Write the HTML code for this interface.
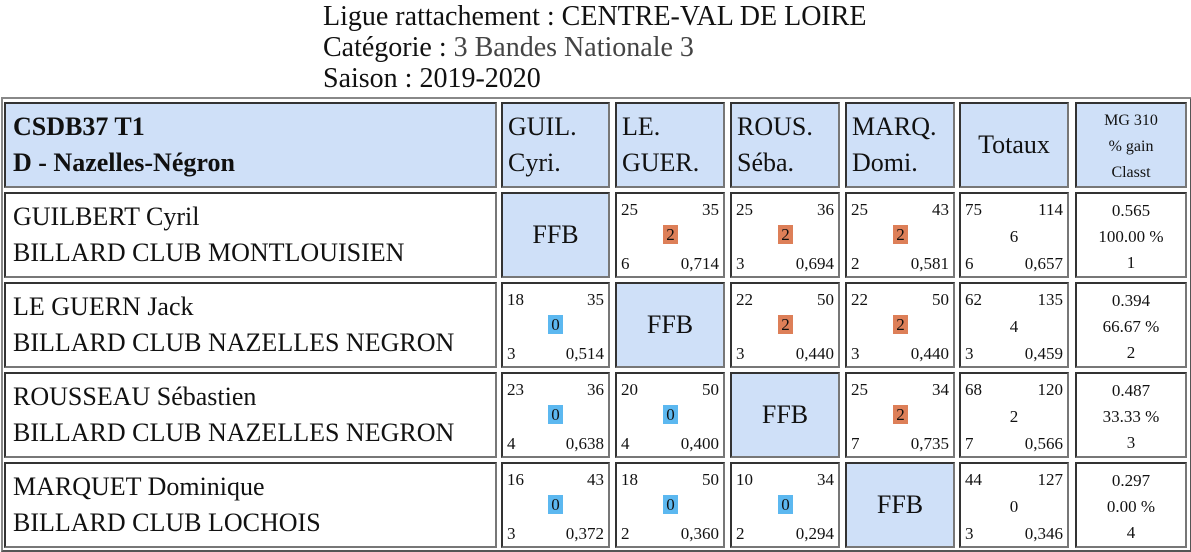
<!DOCTYPE html>
<html><head><meta charset="utf-8"><style>
body{margin:0;width:1191px;height:552px;background:#fff;font-family:"Liberation Serif",serif;color:#111;position:relative;overflow:hidden}
.title{position:absolute;left:323px;font-size:28px;line-height:31px;white-space:nowrap}
.frame{position:absolute;left:1px;top:97px;width:1187px;height:451px;border:2px solid #888;border-right-color:#555;border-bottom-color:#555}
.cell{position:absolute;box-sizing:border-box;border:2px solid #333;border-right-color:#777;border-bottom-color:#777;background:#fff}
.hd{background:#cfe0f8}
.big{font-size:26px;line-height:36px}
.sm{position:absolute;font-size:17px;line-height:19px}
.box{position:absolute;width:15px;height:19px;font-size:17px;line-height:19px;text-align:center}
</style></head><body>
<div class="title" style="top:1px">Ligue rattachement : CENTRE-VAL DE LOIRE</div>
<div class="title" style="top:32px">Catégorie : <span style="color:#444">3 Bandes Nationale 3</span></div>
<div class="title" style="top:63px">Saison : 2019-2020</div>
<div class="frame"></div>
<div id="t"></div>
<script>
const colX=[4,501,615,730,845,959,1075];
const colW=[493,109,110,110,110,110,112];
const rowY=[102,192,282,372,462];
const rowH=86;
const heads=["GUIL.<br>Cyri.","LE.<br>GUER.","ROUS.<br>Séba.","MARQ.<br>Domi."];
const names=["GUILBERT Cyril","LE GUERN Jack","ROUSSEAU Sébastien","MARQUET Dominique"];
const clubs=["BILLARD CLUB MONTLOUISIEN","BILLARD CLUB NAZELLES NEGRON","BILLARD CLUB NAZELLES NEGRON","BILLARD CLUB LOCHOIS"];
const pts=[[null,25,25,25],[18,null,22,22],[23,20,null,25],[16,18,10,null]];
const rep=[[null,35,36,43],[35,null,50,50],[36,50,null,34],[43,50,34,null]];
const gain=[[null,2,2,2],[0,null,2,2],[0,0,null,2],[0,0,0,null]];
const smx=[[null,6,3,2],[3,null,3,3],[4,4,null,7],[3,2,2,null]];
const moy=[[null,"0,714","0,694","0,581"],["0,514",null,"0,440","0,440"],["0,638","0,400",null,"0,735"],["0,372","0,360","0,294",null]];
const totPts=[75,62,68,44],totRep=[114,135,120,127],totGain=[6,4,2,0],totSmx=[6,3,7,3],totMoy=["0,657","0,459","0,566","0,346"];
const mg=["0.565","0.394","0.487","0.297"],pct=["100.00 %","66.67 %","33.33 %","0.00 %"],rank=[1,2,3,4];
const T=document.getElementById('t');
function cell(c,r,cls){const d=document.createElement('div');d.className='cell '+(cls||'');
d.style.left=colX[c]+'px';d.style.top=rowY[r]+'px';d.style.width=colW[c]+'px';d.style.height=rowH+'px';T.appendChild(d);return d;}
function txt(p,s,l,t,w,align){const e=document.createElement('div');e.className='sm';e.textContent=s;e.style.left=l+'px';e.style.top=t+'px';if(w){e.style.width=w+'px';e.style.textAlign=align;}p.appendChild(e);return e;}
let h=cell(0,0,'hd');


h.innerHTML='<div class="big" style="position:absolute;left:7px;top:5px;font-weight:bold">CSDB37 T1<br>D - Nazelles-Négron</div>';
heads.forEach((s,i)=>{const c=cell(i+1,0,'hd');


c.innerHTML='<div class="big" style="position:absolute;left:5px;top:5px">'+s+'</div>';});
let tt=cell(5,0,'hd');


tt.innerHTML='<div class="big" style="position:absolute;left:0;width:100%;text-align:center;top:23px">Totaux</div>';
let mh=cell(6,0,'hd');


mh.innerHTML='<div style="position:absolute;left:0;width:100%;text-align:center;top:4px;font-size:16px;line-height:26px">MG 310<br>% gain<br>Classt</div>';
for(let r=0;r<4;r++){
 const n=cell(0,r+1);
 
 
 n.innerHTML='<div class="big" style="position:absolute;left:7px;top:5px;white-space:nowrap">'+names[r]+'<br>'+clubs[r]+'</div>';
 for(let c=0;c<4;c++){
  if(r===c){const f=cell(c+1,r+1,'hd');
   
   
   f.innerHTML='<div class="big" style="position:absolute;left:0;width:100%;text-align:center;top:23px">FFB</div>';continue;}
  const m=cell(c+1,r+1);
  
  
  txt(m,pts[r][c],4,6);
  txt(m,rep[r][c],4,6,colW[c+1]-12,'right');
  txt(m,smx[r][c],4,60);
  txt(m,moy[r][c],4,60,colW[c+1]-12,'right');
  const b=document.createElement('div');b.className='box';b.textContent=gain[r][c];
  b.style.background=gain[r][c]>0?'#dd7f58':'#5cb8f0';
  b.style.left=Math.round((colW[c+1]-4)/2-7.5)+'px';b.style.top='31px';
  
  
  m.appendChild(b);
 }
 const t=cell(5,r+1);
 
 
 txt(t,totPts[r],4,6);txt(t,totRep[r],4,6,colW[5]-12,'right');
 txt(t,totGain[r],0,33,colW[5]-4,'center');
 txt(t,totSmx[r],4,60);txt(t,totMoy[r],4,60,colW[5]-12,'right');
 const g=cell(6,r+1);
 
 
 txt(g,mg[r],0,7,colW[6]-4,'center');txt(g,pct[r],0,33,colW[6]-4,'center');txt(g,rank[r],0,59,colW[6]-4,'center');
}
</script>
</body></html>
